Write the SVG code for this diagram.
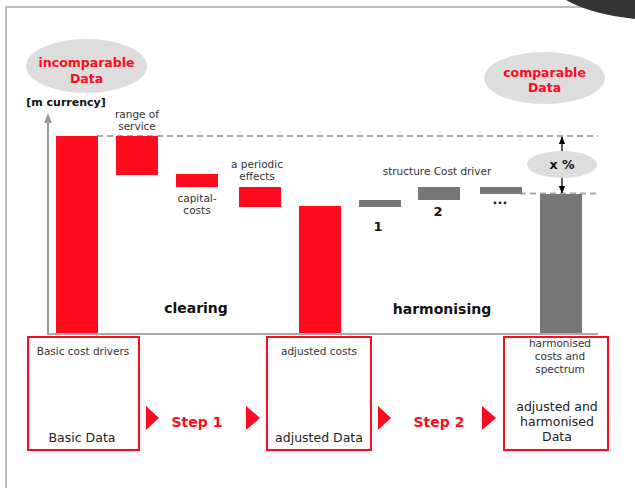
<svg xmlns="http://www.w3.org/2000/svg" width="635" height="488" viewBox="0 0 635 488">
<style>
text{font-family:"DejaVu Sans","Verdana",sans-serif;text-anchor:middle}
.lbl{font-size:10.5px;fill:#333}
.big{font-size:12.5px;fill:#222}
.bl{font-weight:bold;fill:#111}
.red{fill:#ff0a1e}
.rt{fill:#ff0a1e;font-weight:bold}
.gray{fill:#777}
.box{fill:none;stroke:#ff0a1e;stroke-width:2}
.dash{stroke:#aaa;stroke-width:2;stroke-dasharray:6,4;fill:none}
.oval{fill:#ddd}
</style>
<defs>
<marker id="ga" viewBox="0 0 10 10" refX="5" refY="5" markerWidth="10" markerHeight="10" markerUnits="userSpaceOnUse" orient="auto"><path d="M0,1 L10,5 L0,9 Z" fill="#999"/></marker>
<marker id="ba" viewBox="0 0 10 10" refX="9" refY="5" markerWidth="8" markerHeight="8" markerUnits="userSpaceOnUse" orient="auto"><path d="M0,1 L10,5 L0,9 Z" fill="#000"/></marker>
</defs>
<rect width="635" height="488" fill="#fff"/>
<path d="M6,488 V7 H635" fill="none" stroke="#aaa" stroke-width="1.5"/>
<path d="M566,0 Q590,14 635,19 V0 Z" fill="#333"/>

<g id="connectors">
<line x1="48" y1="335" x2="48" y2="118" stroke="#999" stroke-width="2" marker-end="url(#ga)"/>
<line x1="47" y1="334" x2="598" y2="334" stroke="#aaa" stroke-width="2"/>
<line x1="97" y1="136" x2="598" y2="136" class="dash"/>
<line x1="520" y1="193.5" x2="598" y2="193.5" class="dash"/>
<line x1="562" y1="151" x2="562" y2="137" stroke="#000" stroke-width="1.3" marker-end="url(#ba)"/>
<line x1="562" y1="178" x2="562" y2="193" stroke="#000" stroke-width="1.3" marker-end="url(#ba)"/>
<polygon points="146,406 159,418 146,430" class="red"/>
<polygon points="246,406 260,418 246,430" class="red"/>
<polygon points="378,406 391,418 378,430" class="red"/>
<polygon points="482,406 496,418 482,430" class="red"/>
</g>

<g id="incomparable">
<ellipse cx="86.5" cy="66" rx="60.5" ry="27" class="oval"/>
<text x="86.5" y="67" class="rt" style="font-size:12.5px">incomparable</text>
<text x="86.5" y="83" class="rt" style="font-size:12.5px">Data</text>
</g>
<g id="comparable">
<ellipse cx="544.5" cy="78" rx="60.5" ry="26" class="oval"/>
<text x="544.5" y="77" class="rt" style="font-size:12.5px">comparable</text>
<text x="544.5" y="92" class="rt" style="font-size:12.5px">Data</text>
</g>
<g id="unit"><text x="66" y="106" class="bl" style="font-size:11px">[m currency]</text></g>

<g id="bar-basic"><rect x="56" y="136" width="42" height="197" class="red"/></g>
<g id="bar-range"><rect x="116" y="136" width="42" height="39" class="red"/>
<text x="137" y="118" class="lbl">range of</text><text x="137" y="130" class="lbl">service</text></g>
<g id="bar-capital"><rect x="176" y="174" width="42" height="13" class="red"/>
<text x="197" y="202" class="lbl">capital-</text><text x="197" y="214" class="lbl">costs</text></g>
<g id="bar-periodic"><rect x="239" y="187" width="42" height="20" class="red"/>
<text x="257" y="168" class="lbl">a periodic</text><text x="257" y="180" class="lbl">effects</text></g>
<g id="bar-adjusted"><rect x="299" y="206" width="42" height="127" class="red"/></g>
<g id="drivers"><text x="437" y="175" class="lbl">structure Cost driver</text></g>
<g id="bar-1"><rect x="359" y="200" width="42" height="7" class="gray"/>
<text x="378" y="231" class="bl" style="font-size:13px">1</text></g>
<g id="bar-2"><rect x="418" y="187" width="42" height="13" class="gray"/>
<text x="438" y="216" class="bl" style="font-size:13px">2</text></g>
<g id="bar-3"><rect x="480" y="187" width="42" height="7" class="gray"/>
<text x="500" y="204" class="bl" style="font-size:13px">...</text></g>
<g id="bar-harmonised"><rect x="540" y="194" width="42" height="139" class="gray"/></g>
<g id="xpct"><ellipse cx="562" cy="164.5" rx="35" ry="13.5" class="oval"/>
<text x="562" y="169" class="bl" style="font-size:12.5px">x %</text></g>

<g id="clearing"><text x="196" y="313" class="bl" style="font-size:14px">clearing</text></g>
<g id="harmonising"><text x="442" y="314" class="bl" style="font-size:14px">harmonising</text></g>

<g id="box-basic"><rect x="28" y="337" width="111" height="113" class="box"/>
<text x="83" y="355" class="lbl">Basic cost drivers</text>
<text x="82" y="442" class="big">Basic Data</text></g>
<g id="box-adjusted"><rect x="267" y="337" width="104" height="113" class="box"/>
<text x="319" y="355" class="lbl">adjusted costs</text>
<text x="319" y="442" class="big">adjusted Data</text></g>
<g id="box-harmonised"><rect x="504" y="337" width="104" height="113" class="box"/>
<text x="560" y="347" class="lbl">harmonised</text>
<text x="560" y="360" class="lbl">costs and</text>
<text x="560" y="373" class="lbl">spectrum</text>
<text x="557" y="411" class="big">adjusted and</text>
<text x="557" y="426" class="big">harmonised</text>
<text x="557" y="441" class="big">Data</text></g>
<g id="step1"><text x="197" y="427" class="rt" style="font-size:14px">Step 1</text></g>
<g id="step2"><text x="439" y="427" class="rt" style="font-size:14px">Step 2</text></g>
</svg>
